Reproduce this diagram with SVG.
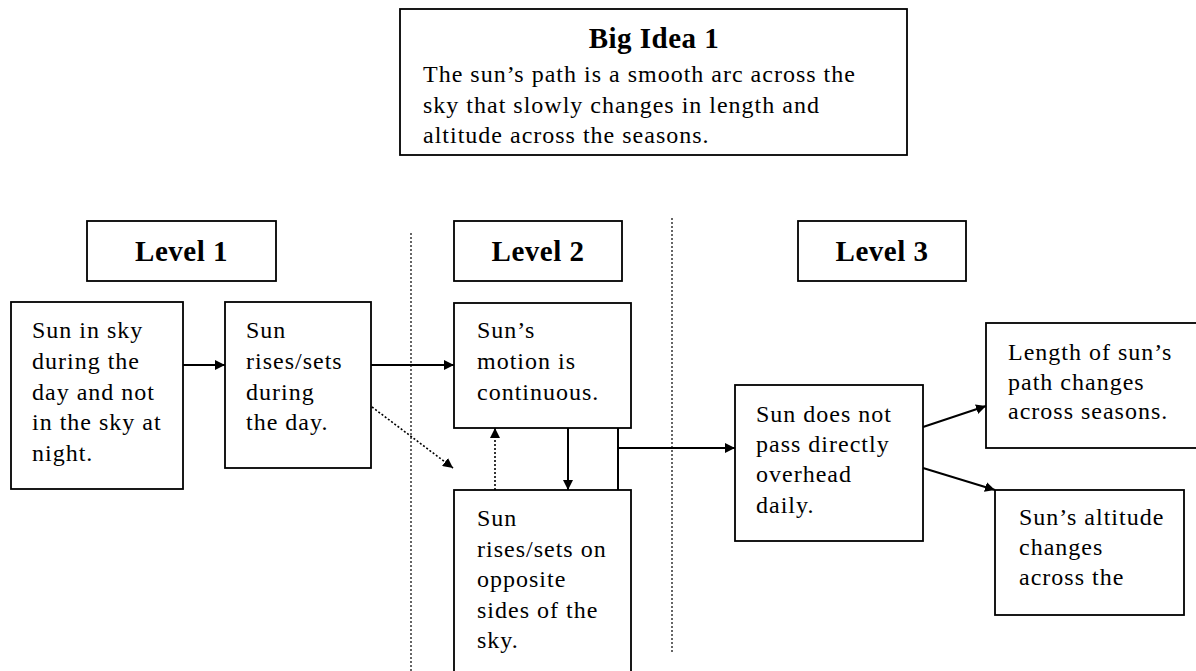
<svg xmlns="http://www.w3.org/2000/svg" width="1196" height="671" viewBox="0 0 1196 671">
  <style>
    .box { fill: #ffffff; stroke: #000000; stroke-width: 1.8; }
    .txt { font-family: "Liberation Serif", "Times New Roman", serif; font-size: 24px; letter-spacing: 1px; fill: #000000; }
    .head { font-family: "Liberation Serif", "Times New Roman", serif; font-size: 29px; font-weight: bold; letter-spacing: 0.5px; fill: #000000; text-anchor: middle; }
    .line { fill: none; stroke: #000000; stroke-width: 2; }
    .dot { fill: none; stroke: #000000; stroke-width: 1.6; stroke-dasharray: 2 2; }
    .sep { fill: none; stroke: #000000; stroke-width: 1.2; stroke-dasharray: 2 2; }
  </style>
  <defs>
    <marker id="head" viewBox="0 0 10 10" refX="10" refY="5" markerWidth="10" markerHeight="10" markerUnits="userSpaceOnUse" orient="auto">
      <path d="M0,0 L10,5 L0,10 Z" fill="#000000"/>
    </marker>
  </defs>

  <rect width="1196" height="671" fill="#ffffff"/>

  <!-- Big idea panel -->
  <g id="big-idea">
    <rect class="box" x="400" y="9" width="507" height="146"/>
    <text class="head" x="654" y="48">Big Idea 1</text>
    <text class="txt" x="423" y="82">The sun’s path is a smooth arc across the</text>
    <text class="txt" x="423" y="112.5">sky that slowly changes in length and</text>
    <text class="txt" x="423" y="143">altitude across the seasons.</text>
  </g>

  <!-- Level headers -->
  <g id="level-1">
    <rect class="box" x="87" y="221" width="189" height="60"/>
    <text class="head" x="181.5" y="261">Level 1</text>
  </g>
  <g id="level-2">
    <rect class="box" x="454" y="221" width="168" height="60"/>
    <text class="head" x="538" y="261">Level 2</text>
  </g>
  <g id="level-3">
    <rect class="box" x="798" y="221" width="168" height="60"/>
    <text class="head" x="882" y="261">Level 3</text>
  </g>

  <!-- Level separators -->
  <g id="separators">
    <line class="sep" x1="411" y1="233" x2="411" y2="671"/>
    <line class="sep" x1="672" y1="218" x2="672" y2="653"/>
  </g>

  <!-- Concept boxes -->
  <g id="sun-in-sky">
    <rect class="box" x="11" y="302" width="172" height="187"/>
    <text class="txt" x="32" y="338">Sun in sky</text>
    <text class="txt" x="32" y="368.5">during the</text>
    <text class="txt" x="32" y="400">day and not</text>
    <text class="txt" x="32" y="430">in the sky at</text>
    <text class="txt" x="32" y="461">night.</text>
  </g>
  <g id="rises-sets">
    <rect class="box" x="225" y="302" width="146" height="166"/>
    <text class="txt" x="246" y="338">Sun</text>
    <text class="txt" x="246" y="368.5">rises/sets</text>
    <text class="txt" x="246" y="400">during</text>
    <text class="txt" x="246" y="430">the day.</text>
  </g>
  <g id="continuous">
    <rect class="box" x="454" y="303" width="177" height="125"/>
    <text class="txt" x="477" y="338">Sun’s</text>
    <text class="txt" x="477" y="368.5">motion is</text>
    <text class="txt" x="477" y="400">continuous.</text>
  </g>
  <g id="opposite-sides">
    <rect class="box" x="454" y="490" width="177" height="200"/>
    <text class="txt" x="477" y="526">Sun</text>
    <text class="txt" x="477" y="556.5">rises/sets on</text>
    <text class="txt" x="477" y="587">opposite</text>
    <text class="txt" x="477" y="617.5">sides of the</text>
    <text class="txt" x="477" y="648">sky.</text>
  </g>
  <g id="not-overhead">
    <rect class="box" x="735" y="385" width="188" height="156"/>
    <text class="txt" x="756" y="422">Sun does not</text>
    <text class="txt" x="756" y="452">pass directly</text>
    <text class="txt" x="756" y="482">overhead</text>
    <text class="txt" x="756" y="513">daily.</text>
  </g>
  <g id="path-length">
    <rect class="box" x="986" y="323" width="220" height="125"/>
    <text class="txt" x="1008" y="360">Length of sun’s</text>
    <text class="txt" x="1008" y="390">path changes</text>
    <text class="txt" x="1008" y="419">across seasons.</text>
  </g>
  <g id="altitude">
    <rect class="box" x="995" y="490" width="189" height="125"/>
    <text class="txt" x="1019" y="525">Sun’s altitude</text>
    <text class="txt" x="1019" y="555">changes</text>
    <text class="txt" x="1019" y="585">across the</text>
  </g>

  <!-- Connectors -->
  <g id="connectors">
    <line class="line" x1="183" y1="365" x2="225" y2="365" marker-end="url(#head)"/>
    <line class="line" x1="371" y1="365" x2="454" y2="365" marker-end="url(#head)"/>
    <line class="dot" x1="372" y1="407" x2="453" y2="468" marker-end="url(#head)"/>
    <line class="line" x1="568" y1="428" x2="568" y2="490" marker-end="url(#head)"/>
    <line class="dot" x1="495" y1="490" x2="495" y2="428" marker-end="url(#head)"/>
    <polyline class="line" points="618,428 618,490"/>
    <line class="line" x1="618" y1="448" x2="735" y2="448" marker-end="url(#head)"/>
    <line class="line" x1="923" y1="427" x2="986" y2="406" marker-end="url(#head)"/>
    <line class="line" x1="923" y1="468" x2="995" y2="490" marker-end="url(#head)"/>
  </g>
</svg>
